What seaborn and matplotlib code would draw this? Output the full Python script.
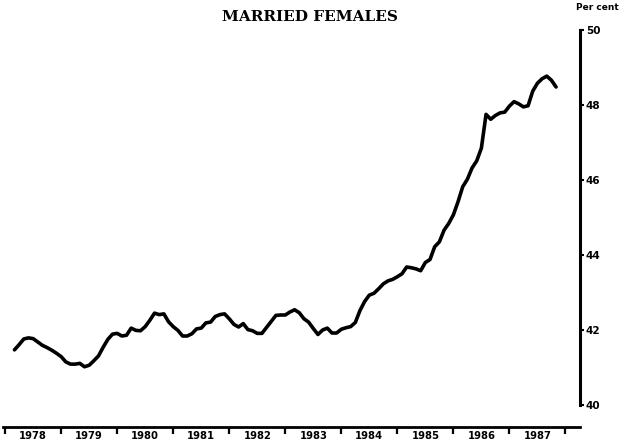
import numpy as np
import pandas as pd
import matplotlib
matplotlib.use("Agg")
import matplotlib.pyplot as plt
import seaborn as sns

# monthly series, March 1978 to November 1987 (per cent)
start_year = 1978
start_month = 3
pct = [
    41.47, 41.61, 41.76, 41.79, 41.77, 41.68, 41.59, 41.53, 41.46, 41.38,
    41.29, 41.15, 41.09, 41.09, 41.11, 41.02, 41.06, 41.18, 41.31, 41.54,
    41.75, 41.89, 41.91, 41.84, 41.86, 42.05, 41.99, 41.98, 42.09, 42.26,
    42.45, 42.41, 42.43, 42.22, 42.09, 41.99, 41.84, 41.84, 41.90, 42.03,
    42.05, 42.19, 42.21, 42.36, 42.41, 42.43, 42.30, 42.15, 42.08, 42.17,
    42.01, 41.98, 41.91, 41.91, 42.07, 42.23, 42.39, 42.40, 42.40, 42.48,
    42.54, 42.46, 42.30, 42.21, 42.04, 41.88, 42.00, 42.05, 41.92, 41.92,
    42.02, 42.06, 42.09, 42.20, 42.52, 42.76, 42.93, 42.98, 43.10, 43.23,
    43.31, 43.35, 43.42, 43.50, 43.68, 43.66, 43.63, 43.58, 43.80, 43.88,
    44.22, 44.35, 44.66, 44.84, 45.07, 45.42, 45.82, 46.02, 46.32, 46.51,
    46.85, 47.75, 47.62, 47.72, 47.79, 47.81, 47.97, 48.09, 48.03, 47.95,
    47.98, 48.37, 48.58, 48.70, 48.77, 48.66, 48.48,
]
years = list(range(1978, 1988))
y_ticks = [40, 42, 44, 46, 48, 50]

t = start_year + (start_month - 1 + np.arange(len(pct))) / 12.0
df = pd.DataFrame({"t": t, "pct": pct})

sns.set_style("white")
plt.rcParams["text.color"] = "black"
plt.rcParams["xtick.color"] = "black"
plt.rcParams["ytick.color"] = "black"

fig = plt.figure(figsize=(6.26, 4.45), dpi=100)
ax = fig.add_axes([0.005, 40 / 445, 0.922, 375 / 445])

sns.lineplot(data=df, x="t", y="pct", ax=ax, color="black", linewidth=2.6)

ax.set_xlim(1978.0 - 2 / 56.5, 1988.0 + 15 / 56.5)
ax.set_ylim(40, 50)

for s in ["left", "top"]:
    ax.spines[s].set_visible(False)
ax.spines["right"].set_linewidth(2.2)
ax.spines["right"].set_color("black")
ax.spines["bottom"].set_linewidth(2.0)
ax.spines["bottom"].set_color("black")
ax.spines["bottom"].set_position(("outward", 16))

# right y axis
ax.yaxis.tick_right()
ax.set_yticks(y_ticks)
ax.set_yticklabels([str(v) for v in y_ticks], fontsize=7.5, fontweight="bold",
                   family="DejaVu Sans")
ax.tick_params(axis="y", direction="out", length=3, width=1.5, pad=1, colors="black")

# year boundaries as ticks, labels centred in each year
ax.set_xticks(years + [1988])
ax.set_xticklabels([])
ax.set_xticks([y + 0.5 for y in years], minor=True)
ax.set_xticklabels([str(y) for y in years], minor=True, fontsize=7.2,
                   fontweight="bold", family="DejaVu Sans")
ax.tick_params(axis="x", which="major", direction="out", length=5, width=1.6,
               colors="black", bottom=True)
ax.tick_params(axis="x", which="minor", length=0, pad=3, colors="black")

ax.set_xlabel("")
ax.set_ylabel("")
ax.grid(False)

fig.text(310 / 626, 1 - 17 / 445, "MARRIED FEMALES", ha="center", va="center",
         fontsize=11, fontweight="bold", family="DejaVu Serif", color="black")
fig.text(597 / 626, 1 - 8 / 445, "Per cent", ha="center", va="center",
         fontsize=6.5, fontweight="bold", family="DejaVu Sans", color="black")

fig.savefig("out.png", dpi=100)
